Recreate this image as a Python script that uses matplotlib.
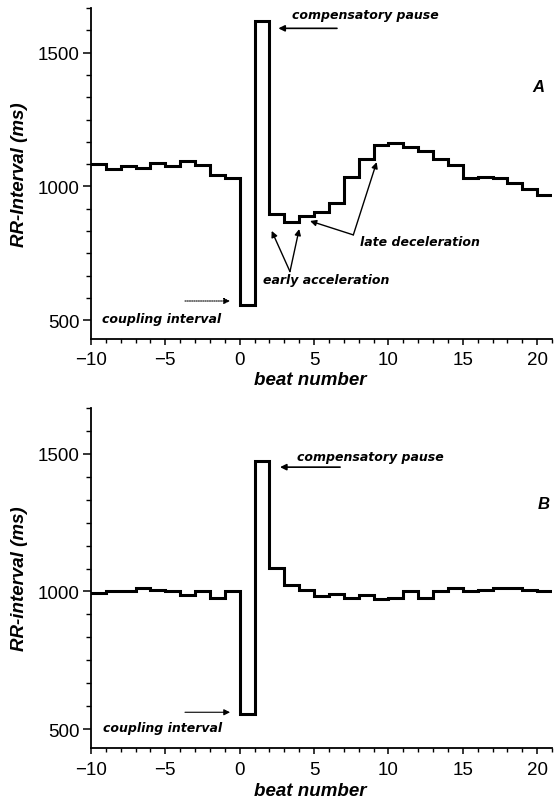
import numpy as np
import matplotlib
matplotlib.use("Agg")
import matplotlib.pyplot as plt
from matplotlib.ticker import MultipleLocator

plt.rcParams['font.family'] = ['Liberation Sans', 'DejaVu Sans']

# ---- data ----
beats = list(range(-10, 21))  # beat numbers; each beat spans [n, n+1]
rr_A = [1083, 1065, 1076, 1070, 1086, 1078, 1095, 1080, 1043, 1031,
        556, 1620, 898, 867, 888, 905, 939, 1037, 1101, 1155,
        1161, 1147, 1133, 1104, 1080, 1030, 1036, 1030, 1014, 991, 969]
rr_B = [995, 1001, 1001, 1013, 1004, 1001, 989, 1001, 978, 1001,
        554, 1475, 1085, 1022, 1004, 985, 992, 976, 988, 973,
        976, 1000, 976, 1001, 1012, 1000, 1007, 1012, 1012, 1007, 1000]
panel_labels = ["A", "B"]
ylabels = ["RR-Interval (ms)", "RR-interval (ms)"]
xlabel = "beat number"

W, H = 555, 804
fig = plt.figure(figsize=(W / 100, H / 100), dpi=100)

def fig_rect(l, t, r, b):
    return [l / W, 1 - b / H, (r - l) / W, (b - t) / H]

axA = fig.add_axes(fig_rect(91, 9, 552, 340))
axB = fig.add_axes(fig_rect(91, 409, 552, 749.3))

ann_font = dict(fontsize=9, fontweight='bold', style='italic', family='DejaVu Sans')

def style_axes(ax, ylabel, label_y):
    ax.set_xlim(-10, 21)
    ax.set_ylim(430, 1667)
    for s in ['top', 'right']:
        ax.spines[s].set_visible(False)
    for s in ['left', 'bottom']:
        ax.spines[s].set_linewidth(1.3)
    ax.xaxis.set_major_locator(MultipleLocator(5))
    ax.xaxis.set_minor_locator(MultipleLocator(1))
    ax.yaxis.set_major_locator(MultipleLocator(500))
    ax.yaxis.set_minor_locator(MultipleLocator(500 / 6))
    ax.tick_params(axis='both', which='major', direction='out', labelsize=13.5, width=1.1)
    ax.tick_params(axis='y', which='major', length=6, pad=2)
    ax.tick_params(axis='x', which='major', length=4, pad=5)
    ax.tick_params(axis='y', which='minor', length=3.5, width=1)
    ax.tick_params(axis='x', which='minor', length=3, width=1)
    ax.set_ylabel(ylabel, fontsize=13.5, fontweight='bold', style='italic')
    ax.yaxis.set_label_coords(-0.137, 0.5)
    ax.set_xlabel(xlabel, fontsize=13.5, fontweight='bold', style='italic')
    ax.xaxis.set_label_coords(0.475, label_y)

def draw_series(ax, values):
    x = np.array(beats + [beats[-1] + 1], dtype=float)
    y = np.array(values + [values[-1]], dtype=float)
    ax.step(x, y, where='post', color='black', lw=2.2, solid_joinstyle='miter')

def arrow(ax, tail, head, lw=1.0, ls='-'):
    ax.annotate('', xy=head, xytext=tail, xycoords='data', textcoords='data',
                arrowprops=dict(arrowstyle='-|>', color='black', lw=lw, ls=ls,
                                mutation_scale=9, shrinkA=0, shrinkB=0))

# ---- panel A ----
draw_series(axA, rr_A)
style_axes(axA, ylabels[0], -0.098)
axA.text(3.5, 1641, "compensatory pause", ha='left', va='center', **ann_font)
arrow(axA, (6.54, 1591), (2.6, 1591), lw=1.2)
axA.text(20.06, 1375, panel_labels[0], ha='center', va='center', fontsize=12,
         fontweight='bold', style='italic')
axA.text(8.09, 796, "late deceleration", ha='left', va='center', **ann_font)
arrow(axA, (7.64, 819), (4.73, 871))
arrow(axA, (7.64, 819), (9.21, 1091))
axA.text(1.59, 651, "early acceleration", ha='left', va='center', **ann_font)
arrow(axA, (3.38, 682), (2.15, 834))
arrow(axA, (3.38, 682), (4.0, 841))
axA.text(-9.28, 508, "coupling interval", ha='left', va='center', **ann_font)
arrow(axA, (-3.68, 572), (-0.65, 572), lw=0.8, ls=(0, (1, 1)))

# ---- panel B ----
draw_series(axB, rr_B)
style_axes(axB, ylabels[1], -0.1)
axB.text(3.83, 1489, "compensatory pause", ha='left', va='center', **ann_font)
arrow(axB, (6.75, 1452), (2.71, 1452), lw=1.2)
axB.text(20.42, 1319, panel_labels[1], ha='center', va='center', fontsize=12,
         fontweight='bold', style='italic')
axB.text(-9.19, 507, "coupling interval", ha='left', va='center', **ann_font)
arrow(axB, (-3.68, 561), (-0.65, 561), lw=0.8)

fig.savefig("out.png", dpi=100)
